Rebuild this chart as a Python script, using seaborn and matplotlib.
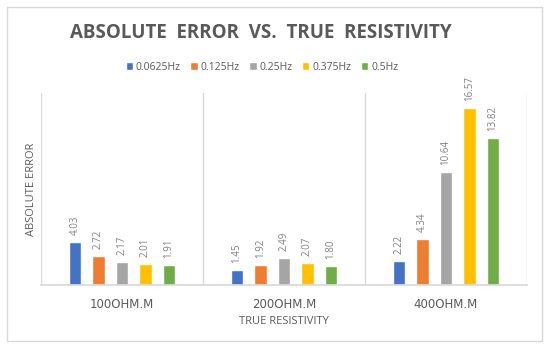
import matplotlib
matplotlib.use("Agg")
import matplotlib.pyplot as plt
import seaborn as sns
import pandas as pd
from matplotlib.patches import Rectangle

categories = ["100OHM.M", "200OHM.M", "400OHM.M"]
series = ["0.0625Hz", "0.125Hz", "0.25Hz", "0.375Hz", "0.5Hz"]
v_00625 = [4.03, 1.45, 2.22]
v_0125 = [2.72, 1.92, 4.34]
v_025 = [2.17, 2.49, 10.64]
v_0375 = [2.01, 2.07, 16.57]
v_05 = [1.91, 1.80, 13.82]
colors = ["#4472C4", "#ED7D31", "#A5A5A5", "#FFC000", "#70AD47"]

rows = []
for s, vals in zip(series, [v_00625, v_0125, v_025, v_0375, v_05]):
    for c, v in zip(categories, vals):
        rows.append({"cat": c, "series": s, "value": v})
df = pd.DataFrame(rows)

sns.set_theme(style="white")
plt.rcParams["font.family"] = ["Open Sans", "DejaVu Sans"]

fig = plt.figure(figsize=(5.5, 3.48), dpi=100)
ax = fig.add_axes([41/550, 1-285/348, (527-41)/550, (285-93)/348])

sns.barplot(data=df, x="cat", y="value", hue="series", order=categories,
            hue_order=series, palette=colors, width=0.725, gap=0.46,
            saturation=1, ax=ax, legend=True)

for cont in ax.containers:
    for bar in cont:
        h = bar.get_height()
        ax.annotate(f"{h:.2f}", (bar.get_x() + bar.get_width()/2, h),
                    xytext=(0, 5), textcoords="offset points", rotation=90,
                    ha="center", va="bottom", fontsize=7, color="#808080")

ax.set_ylim(0, 18)
ax.set_xlim(-0.5, 2.5)
ax.set_yticks([])
for sp in ["top", "left", "right"]:
    ax.spines[sp].set_visible(False)
ax.spines["bottom"].set_color("#d9d9d9")
for xv in [-0.5, 0.5, 1.5, 2.5]:
    ax.axvline(xv, color="#d9d9d9", lw=1, zorder=0)
ax.tick_params(axis="x", length=0, pad=9, labelsize=8.5, labelcolor="#595959")
for t in ax.get_xticklabels():
    t.set_fontfamily(["DejaVu Sans"])
    t.set_fontsize(8.5)
ax.set_xlabel("TRUE RESISTIVITY", fontsize=8, color="#595959", labelpad=4)
ax.set_ylabel("ABSOLUTE ERROR", fontsize=8, color="#595959", labelpad=3)

leg = ax.legend(loc="center", bbox_to_anchor=(262/550, 1-67/348),
                bbox_transform=fig.transFigure, ncol=5, frameon=False,
                fontsize=7.5, handlelength=0.7, handleheight=0.7,
                handletextpad=0.3, columnspacing=0.9)
for t in leg.get_texts():
    t.set_color("#595959")

fig.text(261/550, 1-33/348, "ABSOLUTE  ERROR  VS.  TRUE  RESISTIVITY",
         ha="center", va="center", fontsize=13.5, fontweight="bold",
         color="#595959")

fig.patches.append(Rectangle((7/550, 7/348), 535/550, 334/348,
                             transform=fig.transFigure, fill=False,
                             edgecolor="#d9d9d9", lw=1))

fig.savefig("out.png", dpi=100)
